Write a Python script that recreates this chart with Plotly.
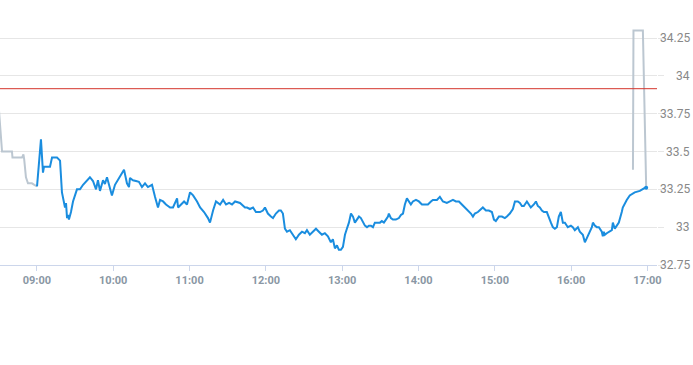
import datetime as dt
import plotly.graph_objects as go

# minutes after 09:00 and price
pre_t = [-30.5, -27.4, -19.6, -19.2, -11.7, -10.6, -10.0, -9.4, -8.6, -7.0, -3.9, -2.0, 0.1]
pre_p = [33.85, 33.50, 33.50, 33.46, 33.46, 33.48, 33.45, 33.40, 33.33, 33.29, 33.29, 33.28, 33.27]

blue_t = [0.1, 3.2, 4.8, 5.6, 10.3, 11.9, 15.8, 18.2, 19.7, 22.1, 22.9, 23.7, 24.4, 25.2, 26.8, 28.4,
          31.5, 33.9, 36.3, 39.4, 41.7, 44.1, 46.5, 48.0, 49.6, 52.0, 53.5, 55.1, 57.5, 59.0, 61.4,
          63.7, 66.9, 68.5, 70.8, 72.4, 73.2, 75.5, 77.9, 80.2, 82.6, 85.0, 87.3, 90.5, 92.9, 95.2,
          96.8, 99.2, 101.5, 104.7, 107.0, 110.2, 111.0, 113.3, 115.7, 118.0, 120.4, 122.8, 125.9,
          128.3, 131.4, 134.5, 136.1, 138.5, 140.8, 144.0, 146.4, 148.7, 151.1, 153.4, 155.8, 159.7,
          162.0, 163.6, 165.2, 167.5, 169.9, 172.2, 175.4, 177.7, 179.3, 181.6, 184.0, 185.6, 187.9,
          190.3, 191.8, 193.4, 195.0, 196.6, 198.9, 201.3, 203.6, 206.0, 208.4, 210.7, 212.3, 214.6,
          217.0, 219.4, 221.7, 224.1, 226.4, 228.8, 231.1, 232.7, 234.3, 235.9, 237.4, 239.0, 240.6,
          242.2, 243.7, 245.3, 246.9, 248.5, 250.0, 251.6, 253.2, 254.7, 256.3, 257.9, 259.5, 261.0,
          262.6, 264.2, 265.7, 268.1, 269.7, 271.2, 272.8, 274.4, 276.0, 276.7, 278.3, 279.9, 282.2,
          284.6, 286.2, 287.8, 289.3, 290.9, 292.5, 294.0, 295.6, 298.0, 300.3, 302.7, 305.0, 307.4,
          309.8, 311.3, 314.5, 316.8, 319.2, 322.3, 324.7, 327.1, 329.4, 331.8, 334.1, 336.5, 338.9,
          341.2, 342.8, 344.3, 346.7, 349.1, 350.6, 353.0, 355.3, 357.7, 359.3, 360.8, 363.2, 365.6,
          367.9, 369.5, 371.8, 374.2, 375.8, 378.1, 379.7, 381.3, 382.8, 385.2, 386.8, 388.3, 390.7,
          392.3, 393.8, 395.4, 397.0, 398.6, 400.9, 402.5, 404.1, 405.6, 407.2, 408.8, 410.3, 411.9,
          413.5, 415.1, 417.4, 419.8, 421.3, 422.9, 425.3, 426.8, 429.2, 430.8, 432.3, 433.9, 436.3,
          437.1, 438.6, 440.2, 441.8, 444.1, 444.9, 445.7, 446.5, 448.0, 449.6, 452.0, 452.8, 454.3,
          455.9, 457.5, 459.8, 460.6, 463.7, 466.1, 470.0, 474.0, 478.0, 479.0]
blue_p = [33.27, 33.58, 33.36, 33.40, 33.40, 33.46, 33.46, 33.44, 33.23, 33.13, 33.16, 33.06, 33.08, 33.05, 33.10, 33.17,
          33.25, 33.25, 33.28, 33.31, 33.33, 33.305, 33.25, 33.31, 33.24, 33.31, 33.285, 33.33, 33.25, 33.21, 33.28,
          33.31, 33.36, 33.38, 33.29, 33.265, 33.325, 33.31, 33.305, 33.30, 33.265, 33.29, 33.265, 33.28, 33.20, 33.13,
          33.18, 33.17, 33.15, 33.13, 33.13, 33.19, 33.13, 33.15, 33.17, 33.15, 33.23, 33.21, 33.17,
          33.13, 33.10, 33.06, 33.03, 33.11, 33.17, 33.15, 33.18, 33.15, 33.16, 33.15, 33.17, 33.16,
          33.14, 33.13, 33.13, 33.12, 33.13, 33.10, 33.10, 33.11, 33.13, 33.09, 33.07, 33.06, 33.09,
          33.11, 33.11, 33.09, 32.99, 32.97, 32.98, 32.95, 32.92, 32.95, 32.97, 32.96, 32.98, 32.95,
          32.97, 32.99, 32.97, 32.95, 32.96, 32.94, 32.90, 32.92, 32.86, 32.88, 32.85, 32.85, 32.87,
          32.95, 32.99, 33.03, 33.09, 33.07, 33.03, 33.05, 33.07, 33.06, 33.03, 33.01, 33.00, 33.01,
          33.01, 33.00, 33.03, 33.03, 33.03, 33.04, 33.03, 33.05, 33.07, 33.09, 33.06, 33.05, 33.05,
          33.06, 33.08, 33.09, 33.15, 33.19, 33.17, 33.15, 33.17, 33.18, 33.17, 33.15, 33.15, 33.15,
          33.17, 33.18, 33.18, 33.20, 33.17, 33.16, 33.17, 33.18, 33.17, 33.17, 33.15, 33.13, 33.11,
          33.09, 33.07, 33.09, 33.10, 33.12, 33.13, 33.11, 33.11, 33.10, 33.05, 33.04, 33.07, 33.07,
          33.06, 33.07, 33.09, 33.12, 33.17, 33.17, 33.16, 33.14, 33.14, 33.17, 33.15, 33.13, 33.15,
          33.17, 33.14, 33.13, 33.11, 33.10, 33.10, 33.07, 33.03, 33.00, 32.99, 33.00, 33.07, 33.10,
          33.03, 33.03, 33.00, 33.01, 33.00, 32.98, 33.00, 32.97, 32.95, 32.90, 32.93, 32.95, 33.00,
          33.03, 33.01, 33.00, 33.00, 32.97, 32.94, 32.97, 32.95, 32.96, 32.97, 32.98, 33.03, 32.99,
          33.01, 33.03, 33.10, 33.13, 33.18, 33.21, 33.23, 33.24, 33.26, 33.26]

post_t = [468.6, 469.0, 476.4, 479.0]
post_p = [33.38, 34.30, 34.30, 33.26]

prev_close = 33.915

y_ticks = [32.75, 33.0, 33.25, 33.5, 33.75, 34.0, 34.25]
y_tick_labels = ["32.75", "33", "33.25", "33.5", "33.75", "34", "34.25"]
x_tick_labels = ["09:00", "10:00", "11:00", "12:00", "13:00", "14:00", "15:00", "16:00", "17:00"]

base = dt.datetime(2024, 1, 2, 9, 0)
def to_dt(ts):
    return [base + dt.timedelta(minutes=m) for m in ts]

x_ticks = [base + dt.timedelta(hours=h) for h in range(len(x_tick_labels))]

GRAY = "#bcc7d1"
BLUE = "#1a8ddf"

fig = go.Figure()
fig.add_trace(go.Scatter(x=to_dt(pre_t), y=pre_p, mode="lines",
                         line=dict(color=GRAY, width=2), hoverinfo="skip"))
fig.add_trace(go.Scatter(x=to_dt(post_t), y=post_p, mode="lines",
                         line=dict(color=GRAY, width=2), hoverinfo="skip"))
fig.add_trace(go.Scatter(x=to_dt(blue_t), y=blue_p, mode="lines",
                         line=dict(color=BLUE, width=2)))
fig.add_trace(go.Scatter(x=to_dt(blue_t[-1:]), y=blue_p[-1:], mode="markers",
                         marker=dict(color=BLUE, size=4)))

fig.add_shape(type="line", xref="paper", x0=0, x1=1, yref="y", y0=prev_close, y1=prev_close,
              line=dict(color="#d4342c", width=1))

for v, lab in zip(y_ticks, y_tick_labels):
    fig.add_annotation(xref="paper", x=1, yref="y", y=v, text=lab, showarrow=False,
                       xanchor="right", yanchor="middle", xshift=35,
                       font=dict(family="Roboto", size=12, color="#888888"))

fig.update_layout(
    width=693, height=365,
    margin=dict(l=0, r=36, t=10, b=100),
    paper_bgcolor="white", plot_bgcolor="white",
    showlegend=False,
    xaxis=dict(
        range=[base - dt.timedelta(minutes=29), base + dt.timedelta(minutes=487.5)],
        tickvals=x_ticks, ticktext=x_tick_labels,
        showgrid=False, zeroline=False,
        showline=True, linecolor="#ccd6eb", linewidth=1,
        ticks="outside", ticklen=5, tickcolor="#ccd6eb",
        tickfont=dict(family="Roboto", size=11, color="#8a97a4", weight="bold"),
    ),
    yaxis=dict(
        side="right", range=[32.75, 34.435],
        tickvals=y_ticks, showticklabels=False,
        showgrid=True, gridcolor="#e6e6e6", zeroline=False,
        ticks="outside", ticklen=6, tickcolor="#e6e6e6",
    ),
)

fig.write_html("out.html", config={"displayModeBar": False},
               post_script="document.body.style.margin='0px';document.body.style.overflow='hidden';")
